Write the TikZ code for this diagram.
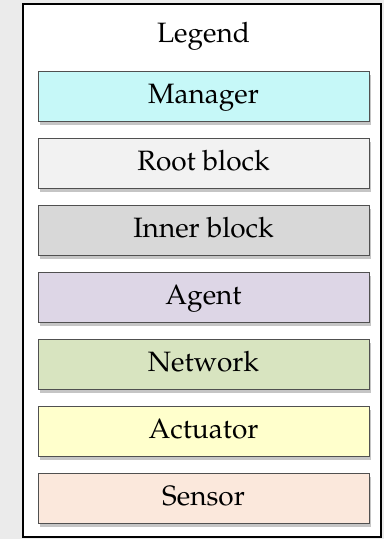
\documentclass[tikz,border=0pt]{standalone}
\usepackage[T1]{fontenc}
\usepackage{mathpazo}
\usepackage{xcolor}
\usetikzlibrary{shadows}
\definecolor{lbackgray}{HTML}{EBEBEB}
\definecolor{lframegray}{HTML}{505050}
\definecolor{lmanager}{HTML}{C6F8F8}
\definecolor{lroot}{HTML}{F2F2F2}
\definecolor{linner}{HTML}{D8D8D8}
\definecolor{lagent}{HTML}{DDD6E6}
\definecolor{lnetwork}{HTML}{D8E4C0}
\definecolor{lactuator}{HTML}{FFFFCC}
\definecolor{lsensor}{HTML}{FBE8DC}

\tikzset{
	legendbox/.style={draw=lframegray, line width=0.8pt, rectangle,
		minimum width=331pt, minimum height=50pt, inner sep=0pt,
		text height=20pt, text depth=6pt,
		font=\fontsize{28}{33}\selectfont,
		drop shadow={shadow xshift=2pt, shadow yshift=-3.5pt, opacity=0.45}}
}

\begin{document}
\begin{tikzpicture}[x=1pt, y=-1pt]
		\useasboundingbox (0,0) rectangle (384,539);
		\fill[color=lbackgray] (0,0) rectangle (384,539);
		\draw[color=black, line width=2pt, fill=white] (23,4) rectangle (381,537);
		\node[font=\fontsize{28}{33}\selectfont, anchor=base] (title) at (203.5,42) {Legend};
		\node[legendbox, fill=lmanager] (manager) at (203.5,96) {Manager};
		\node[legendbox, fill=lroot] (root) at (203.5,163) {Root block};
		\node[legendbox, fill=linner] (inner) at (203.5,230) {Inner block};
		\node[legendbox, fill=lagent] (agent) at (203.5,297) {Agent};
		\node[legendbox, fill=lnetwork] (network) at (203.5,364) {Network};
		\node[legendbox, fill=lactuator] (actuator) at (203.5,431) {Actuator};
		\node[legendbox, fill=lsensor] (sensor) at (203.5,498) {Sensor};
	\end{tikzpicture}
\end{document}
